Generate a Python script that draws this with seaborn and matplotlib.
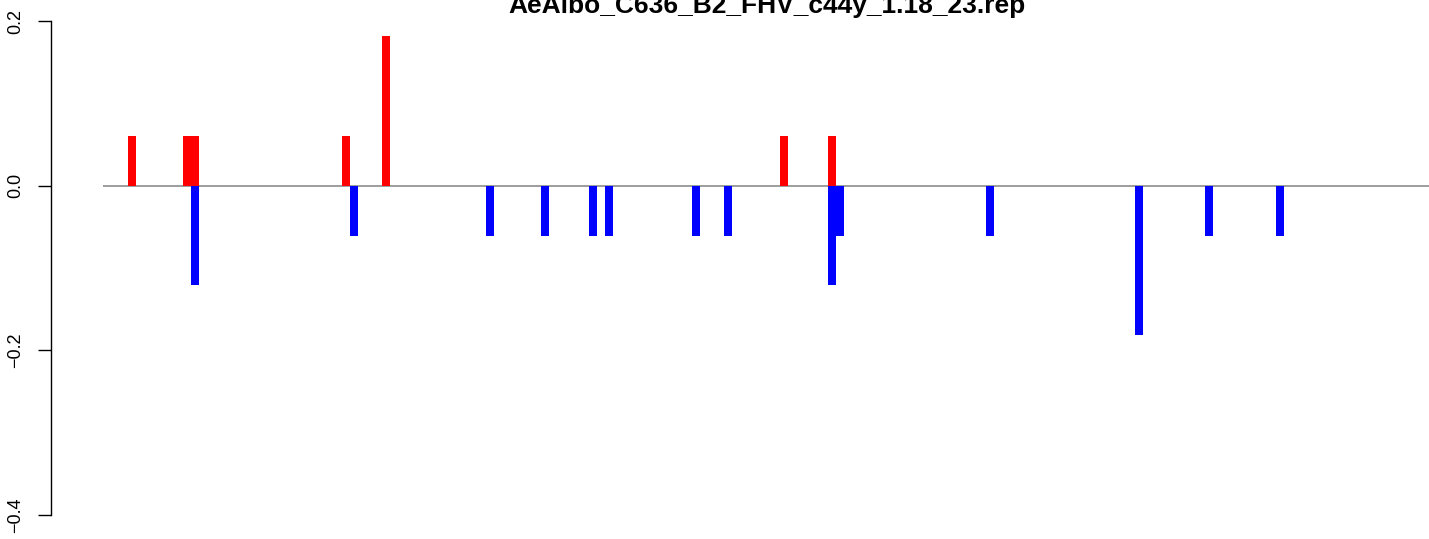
import numpy as np
import pandas as pd
import seaborn as sns
import matplotlib
matplotlib.use("Agg")
import matplotlib.pyplot as plt

# ---------------------------------------------------------------
# data
# ---------------------------------------------------------------
title = "AeAlbo_C636_B2_FHV_c44y_1.18_23.rep"

# positive strand (red) : position, value
pos_plus = [29, 84, 92, 243, 283, 681, 729]
val_plus = [0.0606, 0.0606, 0.0606, 0.0606, 0.1818, 0.0606, 0.0606]

# negative strand (blue) : position, value
pos_minus = [92, 251, 387, 442, 490, 506, 593, 625, 729, 737, 887, 1036, 1106, 1177]
val_minus = [-0.1212, -0.0606, -0.0606, -0.0606, -0.0606, -0.0606, -0.0606,
             -0.0606, -0.1212, -0.0606, -0.0606, -0.1818, -0.0606, -0.0606]

seq_len = 1400
y_ticks = [-0.4, -0.2, 0.0, 0.2]

df_plus = pd.DataFrame({"pos": pos_plus, "val": val_plus})
df_minus = pd.DataFrame({"pos": pos_minus, "val": val_minus})

# ---------------------------------------------------------------
# plot
# ---------------------------------------------------------------
sns.set_style("white")
plt.rcParams['font.family'] = ['Liberation Sans', 'DejaVu Sans']
plt.rcParams['text.color'] = 'black'

fig = plt.figure(figsize=(14.29, 5.39), dpi=100)
W, H = 1429, 539
ax = fig.add_axes([51 / W, (H - 534.8) / H, 1432 / W, 533.56 / H])

bar_w = 8  # in position units

ax.hlines(0, 0, seq_len, color="#8c8c8c", linewidth=1.2, zorder=1)

for d, col in [(df_plus, "#ff0000"), (df_minus, "#0000ff")]:
    min_step = np.diff(np.unique(d["pos"])).min()
    sns.barplot(data=d, x="pos", y="val", native_scale=True, orient="x",
                color=col, saturation=1, errorbar=None, linewidth=0,
                width=bar_w / min_step, ax=ax, zorder=2)

ax.set_xlim(-52, 1380)
ax.set_ylim(-0.424, 0.224)

ax.set_xlabel("")
ax.set_ylabel("")
ax.set_xticks([])
ax.set_yticks(y_ticks)
ax.set_yticklabels([f"{t:.1f}".replace("-", "\u2212") for t in y_ticks])
for s in ["top", "right", "bottom"]:
    ax.spines[s].set_visible(False)
ax.spines["left"].set_bounds(-0.4, 0.2)
ax.spines["left"].set_linewidth(1.0)
ax.spines["left"].set_color("black")
ax.tick_params(axis="y", direction="out", length=9.4, width=1.0, pad=10,
               labelsize=13, labelrotation=90, left=True, colors="black")
for lab in ax.get_yticklabels():
    lab.set_verticalalignment("center")

ax.set_title(title, fontsize=19, fontweight="bold", y=0.978, pad=0, color="black")

fig.savefig("out.png", dpi=100)
